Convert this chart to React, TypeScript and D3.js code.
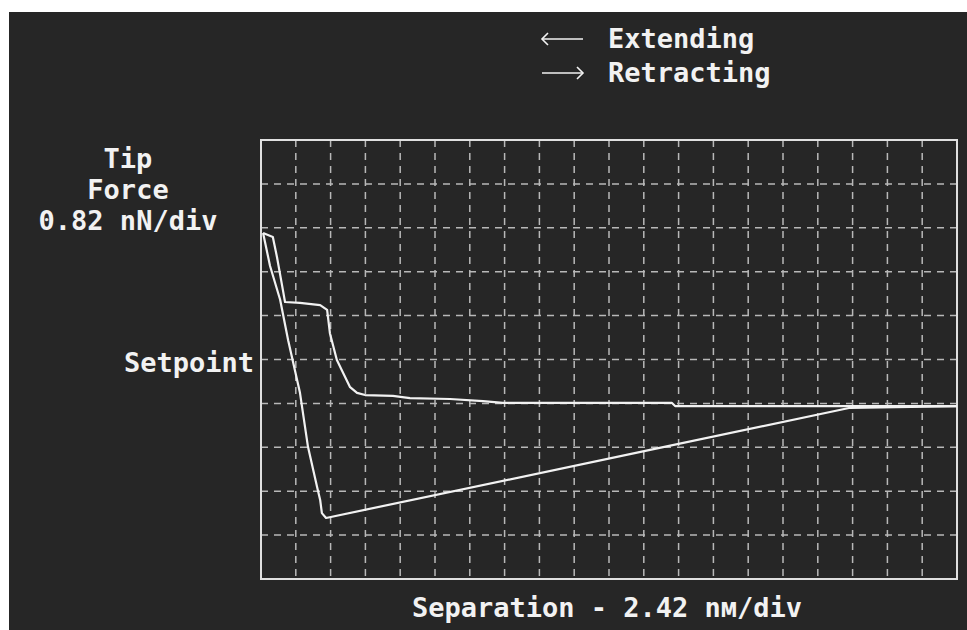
import * as d3 from 'd3';
import React from 'react';

// separation in divisions (2.42 nm/div), force in divisions (0.82 nN/div)
const sepExtending = [0.06, 0.34, 0.46, 0.63, 0.69, 1.12, 1.7, 1.9, 1.98, 2.18, 2.56, 2.76, 2.99, 3.79, 4.28, 5.43, 6.38, 6.95, 11.81, 11.9, 20];
const forceExtending = [7.88, 7.79, 7.33, 6.58, 6.31, 6.29, 6.24, 6.13, 5.6, 4.99, 4.37, 4.24, 4.19, 4.17, 4.12, 4.1, 4.05, 4.01, 4.01, 3.94, 3.94];

const sepRetracting = [0.06, 0.26, 0.55, 0.78, 1.12, 1.35, 1.61, 1.7, 1.75, 1.87, 11.18, 16.93, 20];
const forceRetracting = [7.88, 7.13, 6.36, 5.44, 4.24, 3.01, 2.1, 1.8, 1.5, 1.39, 2.94, 3.9, 3.94];

const xDivs = d3.range(0, 21);
const yDivs = d3.range(0, 11);

const yLabelLines = ['Tip', 'Force', '0.82 nN/div'];
const legendLabels = ['Extending', 'Retracting'];
const xLabel = 'Separation - 2.42 nм/div';
const setpointLabel = 'Setpoint';

export default function App() {
  const width = 967;
  const height = 630;
  const frame = { left: 261, right: 957, top: 140, bottom: 579 };

  const x = d3.scaleLinear().domain([0, 20]).range([frame.left, frame.right]);
  const y = d3.scaleLinear().domain([0, 10]).range([frame.bottom, frame.top]);

  const line = d3.line<[number, number]>()
    .x(d => x(d[0]))
    .y(d => y(d[1]));

  const extPts = sepExtending.map((s, i) => [s, forceExtending[i]] as [number, number]);
  const retPts = sepRetracting.map((s, i) => [s, forceRetracting[i]] as [number, number]);

  const font = "'DejaVu Sans Mono', monospace";
  const fg = '#f2f2f2';
  const grid = '#b8b8b8';

  return (
    <svg width={width} height={height} style={{ position: 'absolute', left: 0, top: 0 }}>
      <rect x={0} y={0} width={width} height={height} fill="#ffffff" />
      <rect x={9} y={12} width={width - 9} height={height - 12} fill="#262626" />

      {/* grid */}
      {xDivs.slice(1, -1).map(d => (
        <line key={'vx' + d} x1={x(d)} x2={x(d)} y1={frame.top} y2={frame.bottom}
          stroke={grid} strokeWidth={1.5} strokeDasharray="7,6" />
      ))}
      {yDivs.slice(1, -1).map(d => (
        <line key={'hy' + d} x1={frame.left} x2={frame.right} y1={y(d)} y2={y(d)}
          stroke={grid} strokeWidth={1.5} strokeDasharray="7,6" />
      ))}

      {/* frame */}
      <rect x={frame.left} y={frame.top} width={frame.right - frame.left} height={frame.bottom - frame.top}
        fill="none" stroke="#e0e0e0" strokeWidth={2} />

      {/* curves */}
      <path d={line(extPts) || ''} fill="none" stroke={fg} strokeWidth={2.2} strokeLinejoin="round" />
      <path d={line(retPts) || ''} fill="none" stroke={fg} strokeWidth={2.2} strokeLinejoin="round" />

      {/* y label */}
      {yLabelLines.map((t, i) => (
        <text key={t} x={128} y={168 + i * 31} textAnchor="middle" fill={fg}
          fontFamily={font} fontWeight="bold" fontSize={27}>{t}</text>
      ))}
      <text x={254} y={372} textAnchor="end" fill={fg} fontFamily={font} fontWeight="bold" fontSize={27}>
        {setpointLabel}
      </text>

      {/* legend */}
      <g stroke={fg} strokeWidth={1.6} fill="none">
        <line x1={542} x2={583} y1={39} y2={39} />
        <path d="M548,33 L542,39 L548,45" />
        <line x1={542} x2={583} y1={73} y2={73} />
        <path d="M577,67 L583,73 L577,79" />
      </g>
      {legendLabels.map((t, i) => (
        <text key={t} x={608} y={48 + i * 34} fill={fg} fontFamily={font} fontWeight="bold" fontSize={27}>{t}</text>
      ))}

      {/* x label */}
      <text x={607} y={617} textAnchor="middle" fill={fg} fontFamily={font} fontWeight="bold" fontSize={27}>
        {xLabel}
      </text>
    </svg>
  );
}
